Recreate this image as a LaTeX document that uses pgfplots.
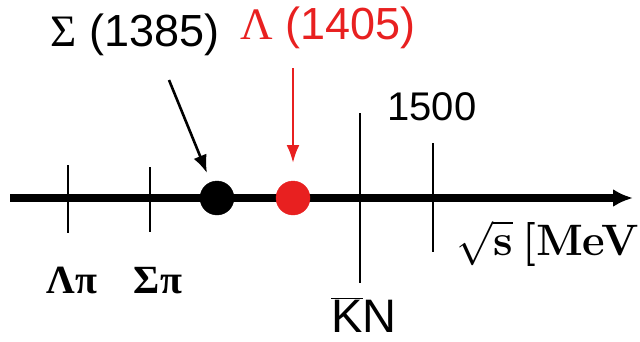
\RequirePackage{fix-cm}
\documentclass[border=0pt]{standalone}
\usepackage{pgfplots}
\pgfplotsset{compat=1.18}
\usepackage{fontspec}
\usetikzlibrary{arrows.meta}
\newfontfamily\sansf{Liberation Sans}
\newfontfamily\seriff{Liberation Serif}
\definecolor{myred}{RGB}{232,32,32}
\begin{document}
\begin{tikzpicture}
\begin{axis}[
  width=640pt, height=341pt, scale only axis,
  xmin=0, xmax=640, ymin=0, ymax=341, y dir=reverse,
  hide axis, clip=false,
]
% energy axis
\addplot[line width=7.5pt, -{Latex[length=20pt,width=18pt]}] coordinates {(10,198) (633,198)};
% thresholds
\addplot[line width=2pt] coordinates {(68,165) (68,233)};
\addplot[line width=2pt] coordinates {(150,167) (150,232)};
\addplot[line width=2pt] coordinates {(360,113) (360,283)};
\addplot[line width=2pt] coordinates {(433,143) (433,252)};
% resonances
\addplot[only marks, mark=*, mark size=17pt, black] coordinates {(217,198)};
\addplot[only marks, mark=*, mark size=17pt, myred, mark options={fill=myred,draw=myred}] coordinates {(293,198)};
% pointers
\addplot[line width=2.6pt, -{Latex[length=18pt,width=14pt]}] coordinates {(169,80) (207,173)};
\addplot[myred, line width=2.6pt, -{Latex[length=18pt,width=13pt]}] coordinates {(293,68) (293,163)};
% labels
\node[anchor=base, font=\fontsize{45}{50}\selectfont\sansf] at (axis cs:135,46) {{\seriff Σ} (1385)};
\node[anchor=base, text=myred, font=\fontsize{45}{50}\selectfont\sansf] at (axis cs:328,39) {{\seriff Λ} (1405)};
\node[anchor=base, font=\fontsize{40}{46}\selectfont\sansf] at (axis cs:432,120) {1500};
\node[anchor=base, inner sep=0pt, font=\fontsize{47}{52}\selectfont\sansf] at (axis cs:364,332) {$\overline{\hbox{K}}$N};
\node[anchor=base, font=\fontsize{40}{46}\selectfont\seriff\bfseries] at (axis cs:72,293) {Λπ};
\node[anchor=base, font=\fontsize{40}{46}\selectfont\seriff\bfseries] at (axis cs:158,293) {Σπ};
\node[anchor=base east, inner sep=0pt, font=\fontsize{44}{50}\selectfont] at (axis cs:639,255) {$\sqrt{\textbf{s}}$\hspace{0.22em}\textbf{[MeV}};
\coordinate (SW) at (axis cs:0,341);
\coordinate (NE) at (axis cs:640,0);
\end{axis}
\pgfresetboundingbox
\path[use as bounding box] (SW) rectangle (NE);
\end{tikzpicture}
\end{document}
